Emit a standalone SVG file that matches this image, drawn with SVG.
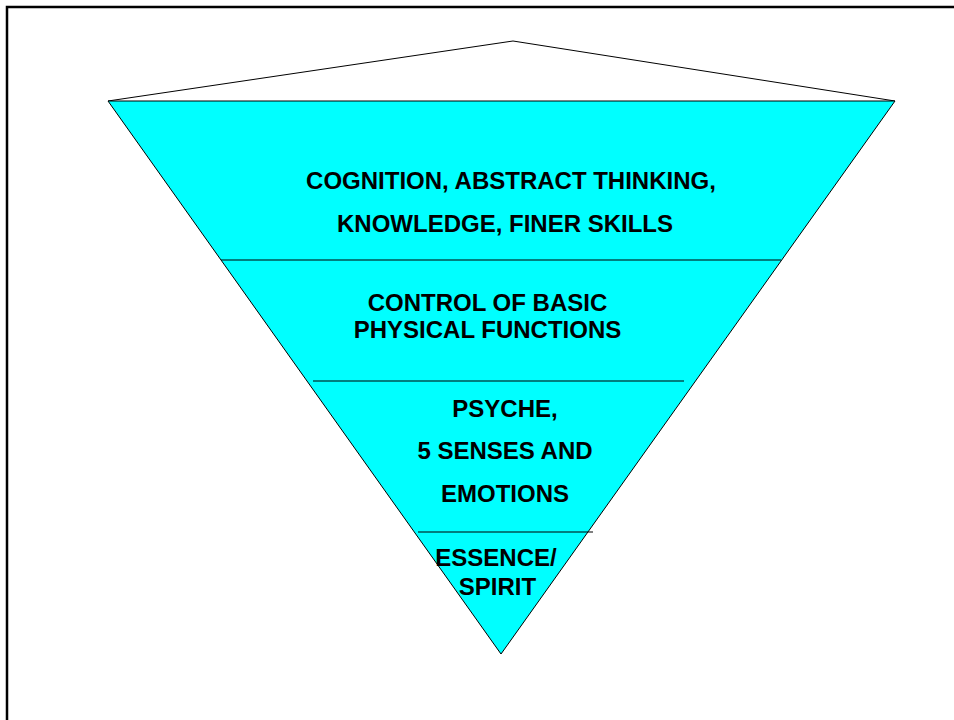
<svg xmlns="http://www.w3.org/2000/svg" width="954" height="720" viewBox="0 0 954 720">
  <style>
    .frame { fill: none; stroke: #000; stroke-width: 2.5; }
    .outline { fill: none; stroke: #000; stroke-width: 1; }
    .layer { fill: #00FFFF; stroke: #000; stroke-width: 1; }
    .divider { stroke: #000; stroke-width: 1.2; }
    .label { font-family: "Liberation Sans", Arial, sans-serif; font-weight: bold; font-size: 24px; fill: #000; text-anchor: middle; }
  </style>
  <rect width="954" height="720" fill="#fff"/>
  <!-- page frame (top and left edges) -->
  <polyline class="frame" points="7,720 7,7 954,7"/>

  <!-- lid of the cone -->
  <g id="lid">
    <polyline class="outline" points="108,101 513,41 895,101"/>
  </g>

  <!-- inverted cone body -->
  <g id="cone">
    <polygon class="layer" points="108,101 895,101 501,654"/>
  </g>

  <g id="connectors">
    <line class="divider" x1="221" y1="260" x2="781" y2="260"/>
    <line class="divider" x1="313" y1="381" x2="684" y2="381"/>
    <line class="divider" x1="418" y1="532" x2="593" y2="532"/>
  </g>

  <g id="layer-cognition">
    <text class="label" x="511" y="189">COGNITION, ABSTRACT THINKING,</text>
    <text class="label" x="505" y="232">KNOWLEDGE, FINER SKILLS</text>
  </g>

  <g id="layer-physical">
    <text class="label" x="487.5" y="311">CONTROL OF BASIC</text>
    <text class="label" x="487.5" y="338">PHYSICAL FUNCTIONS</text>
  </g>

  <g id="layer-psyche">
    <text class="label" x="505" y="417">PSYCHE,</text>
    <text class="label" x="505" y="459">5 SENSES AND</text>
    <text class="label" x="505" y="502">EMOTIONS</text>
  </g>

  <g id="layer-essence">
    <text class="label" x="496" y="566">ESSENCE/</text>
    <text class="label" x="497.5" y="595">SPIRIT</text>
  </g>
</svg>
